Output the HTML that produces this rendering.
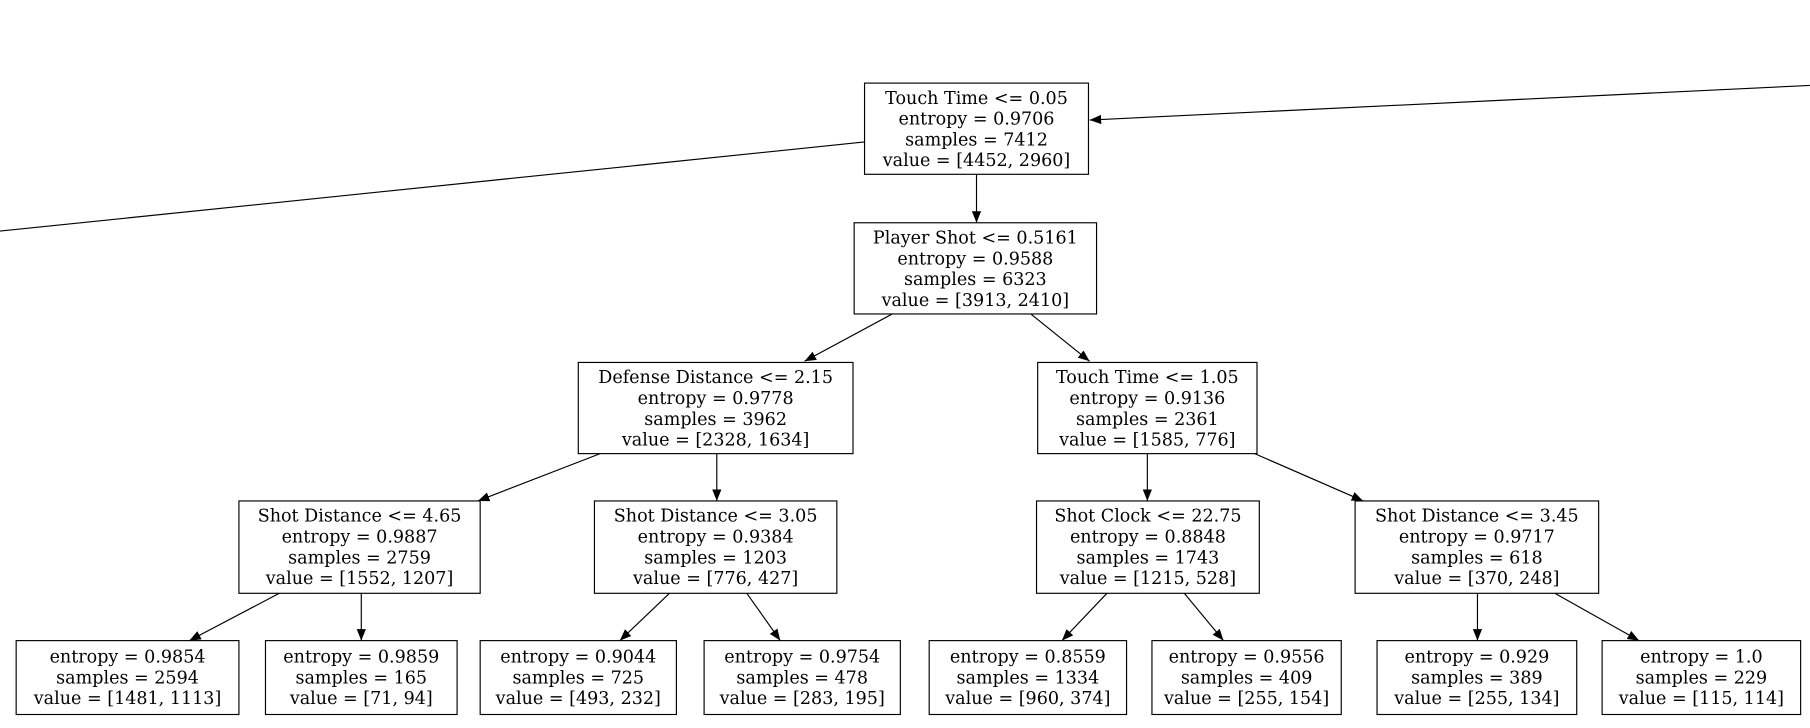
<!DOCTYPE html>
<html><head><meta charset="utf-8"><style>
html,body{margin:0;padding:0;background:#fff;width:1810px;height:728px;overflow:hidden}
svg{display:block}
text{font-family:"DejaVu Serif","Liberation Serif",serif;font-size:15.2px;fill:#000;text-anchor:middle}
rect{fill:#fff;stroke:#000;stroke-width:1}
line{stroke:#000;stroke-width:1}
</style></head><body>
<svg width="1810" height="728" viewBox="0 0 1568.1 630.7" xmlns="http://www.w3.org/2000/svg">
<defs><marker id="a" markerUnits="userSpaceOnUse" markerWidth="12" markerHeight="10" refX="10" refY="4" orient="auto"><polygon points="0,0 10,4 0,8" fill="#000"/></marker></defs>
<line x1="0" y1="200.2" x2="749" y2="123"/>
<line x1="1568" y1="74" x2="944" y2="104" marker-end="url(#a)"/>
<line x1="846" y1="151" x2="846" y2="193" marker-end="url(#a)"/>
<line x1="773" y1="272" x2="697" y2="313" marker-end="url(#a)"/>
<line x1="893" y1="272" x2="944" y2="313" marker-end="url(#a)"/>
<line x1="520" y1="393" x2="414" y2="434" marker-end="url(#a)"/>
<line x1="621" y1="393" x2="621" y2="434" marker-end="url(#a)"/>
<line x1="994" y1="393" x2="994" y2="434" marker-end="url(#a)"/>
<line x1="1087" y1="393" x2="1181" y2="434" marker-end="url(#a)"/>
<line x1="242" y1="514" x2="164" y2="555" marker-end="url(#a)"/>
<line x1="313" y1="514" x2="313" y2="555" marker-end="url(#a)"/>
<line x1="580" y1="514" x2="537" y2="555" marker-end="url(#a)"/>
<line x1="647" y1="514" x2="676" y2="555" marker-end="url(#a)"/>
<line x1="959" y1="514" x2="920" y2="555" marker-end="url(#a)"/>
<line x1="1026" y1="514" x2="1060" y2="555" marker-end="url(#a)"/>
<line x1="1280" y1="514" x2="1280" y2="555" marker-end="url(#a)"/>
<line x1="1347" y1="514" x2="1420" y2="555" marker-end="url(#a)"/>

<rect x="749" y="72" width="194" height="79"/>
<text x="846" y="90">Touch Time &lt;= 0.05</text><text x="846" y="108">entropy = 0.9706</text><text x="846" y="126">samples = 7412</text><text x="846" y="144">value = [4452, 2960]</text>

<rect x="740" y="193" width="210" height="79"/>
<text x="845" y="211">Player Shot &lt;= 0.5161</text><text x="845" y="229">entropy = 0.9588</text><text x="845" y="247">samples = 6323</text><text x="845" y="265">value = [3913, 2410]</text>

<rect x="501" y="314" width="238" height="79"/>
<text x="620" y="332">Defense Distance &lt;= 2.15</text><text x="620" y="350">entropy = 0.9778</text><text x="620" y="368">samples = 3962</text><text x="620" y="386">value = [2328, 1634]</text>

<rect x="899" y="314" width="190" height="79"/>
<text x="994" y="332">Touch Time &lt;= 1.05</text><text x="994" y="350">entropy = 0.9136</text><text x="994" y="368">samples = 2361</text><text x="994" y="386">value = [1585, 776]</text>

<rect x="207" y="434" width="209" height="80"/>
<text x="311.5" y="452">Shot Distance &lt;= 4.65</text><text x="311.5" y="470">entropy = 0.9887</text><text x="311.5" y="488">samples = 2759</text><text x="311.5" y="506">value = [1552, 1207]</text>

<rect x="515" y="434" width="210" height="80"/>
<text x="620" y="452">Shot Distance &lt;= 3.05</text><text x="620" y="470">entropy = 0.9384</text><text x="620" y="488">samples = 1203</text><text x="620" y="506">value = [776, 427]</text>

<rect x="898" y="434" width="193" height="80"/>
<text x="994.5" y="452">Shot Clock &lt;= 22.75</text><text x="994.5" y="470">entropy = 0.8848</text><text x="994.5" y="488">samples = 1743</text><text x="994.5" y="506">value = [1215, 528]</text>

<rect x="1174" y="434" width="211" height="80"/>
<text x="1279.5" y="452">Shot Distance &lt;= 3.45</text><text x="1279.5" y="470">entropy = 0.9717</text><text x="1279.5" y="488">samples = 618</text><text x="1279.5" y="506">value = [370, 248]</text>

<rect x="14" y="555" width="193" height="64"/>
<text x="110.5" y="574">entropy = 0.9854</text><text x="110.5" y="592">samples = 2594</text><text x="110.5" y="610">value = [1481, 1113]</text>

<rect x="230" y="555" width="166" height="64"/>
<text x="313" y="574">entropy = 0.9859</text><text x="313" y="592">samples = 165</text><text x="313" y="610">value = [71, 94]</text>

<rect x="416" y="555" width="170" height="64"/>
<text x="501" y="574">entropy = 0.9044</text><text x="501" y="592">samples = 725</text><text x="501" y="610">value = [493, 232]</text>

<rect x="610" y="555" width="170" height="64"/>
<text x="695" y="574">entropy = 0.9754</text><text x="695" y="592">samples = 478</text><text x="695" y="610">value = [283, 195]</text>

<rect x="805" y="555" width="171" height="64"/>
<text x="890.5" y="574">entropy = 0.8559</text><text x="890.5" y="592">samples = 1334</text><text x="890.5" y="610">value = [960, 374]</text>

<rect x="998" y="555" width="164" height="64"/>
<text x="1080" y="574">entropy = 0.9556</text><text x="1080" y="592">samples = 409</text><text x="1080" y="610">value = [255, 154]</text>

<rect x="1193" y="555" width="173" height="64"/>
<text x="1279.5" y="574">entropy = 0.929</text><text x="1279.5" y="592">samples = 389</text><text x="1279.5" y="610">value = [255, 134]</text>

<rect x="1388" y="555" width="172" height="64"/>
<text x="1474" y="574">entropy = 1.0</text><text x="1474" y="592">samples = 229</text><text x="1474" y="610">value = [115, 114]</text>
</svg>
</body></html>
